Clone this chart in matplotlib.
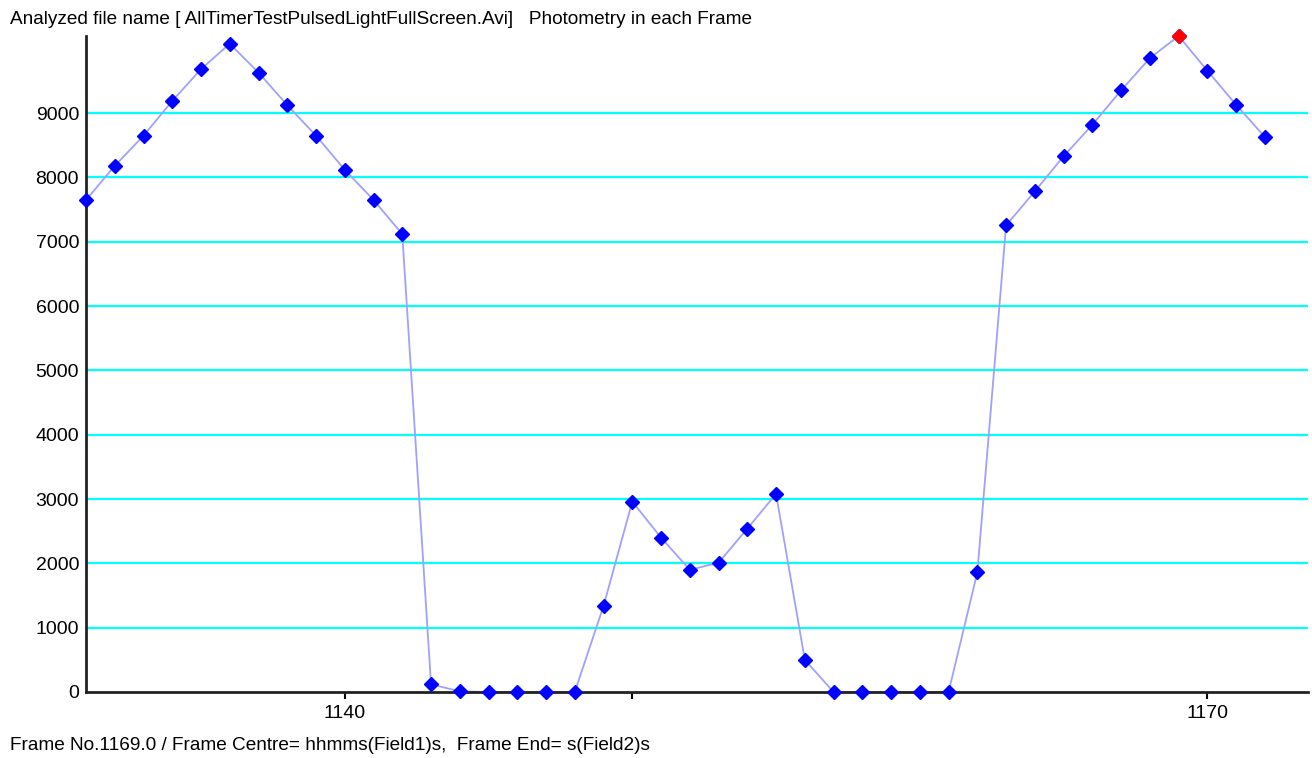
import matplotlib
matplotlib.use("Agg")
import matplotlib.pyplot as plt

# frame numbers and photometry values
frames = list(range(1131, 1173))
values = [7650, 8180, 8650, 9190, 9685, 10080, 9630, 9125, 8650, 8120,
          7650, 7120, 120, 10, 0, 0, 0, 0, 1340, 2960,
          2400, 1900, 2010, 2540, 3080, 500, 0, 0, 0, 0,
          0, 1860, 7255, 7785, 8330, 8820, 9355, 9855, 10200, 9660,
          9130, 8630]
current_frame = 1169

x_ticks = [1140, 1150, 1160, 1170]
x_tick_labels = ["1140", "", "", "1170"]
y_ticks = [0, 1000, 2000, 3000, 4000, 5000, 6000, 7000, 8000, 9000]

title_text = "Analyzed file name [ AllTimerTestPulsedLightFullScreen.Avi]   Photometry in each Frame"
footer_text = "Frame No.1169.0 / Frame Centre= hhmms(Field1)s,  Frame End= s(Field2)s"

plt.rcParams['font.family'] = ['Liberation Sans', 'DejaVu Sans']

fig = plt.figure(figsize=(13.12, 7.58), dpi=100)
ax = fig.add_axes([86 / 1312, 66 / 758, 1222 / 1312, 656 / 758])

# cyan horizontal grid lines (no line at 0)
for yv in y_ticks[1:]:
    ax.axhline(yv, color="#00ffff", lw=1.6, zorder=1)

ax.plot(frames, values, color="#a0a0ff", lw=1.3, zorder=2)
ax.plot(frames, values, ls="none", marker="D", ms=6.8, color="#0000ff",
        zorder=3, clip_on=False)
i = frames.index(current_frame)
ax.plot(frames[i], values[i], ls="none", marker="D", ms=6.8, color="#ff0000",
        zorder=4, clip_on=False)

ax.set_xlim(1131, 1173.5)
ax.set_ylim(0, max(values))
ax.set_xticks(x_ticks)
ax.set_xticklabels(x_tick_labels)
ax.set_yticks(y_ticks)
ax.set_yticklabels([str(v) for v in y_ticks])
ax.tick_params(axis="x", length=5, width=1.5, color="black", labelsize=14, pad=4)
ax.tick_params(axis="y", length=0, labelsize=14, pad=5)

for s in ["top", "right"]:
    ax.spines[s].set_visible(False)
for s in ["left", "bottom"]:
    ax.spines[s].set_linewidth(2)
    ax.spines[s].set_color("#222222")
    ax.spines[s].set_zorder(2.5)

fig.text(10 / 1312, 1 - 19 / 758, title_text, fontsize=13.7, va="center", ha="left")
fig.text(10 / 1312, 1 - 745 / 758, footer_text, fontsize=13.7, va="center", ha="left")

fig.savefig("out.png", dpi=100)
